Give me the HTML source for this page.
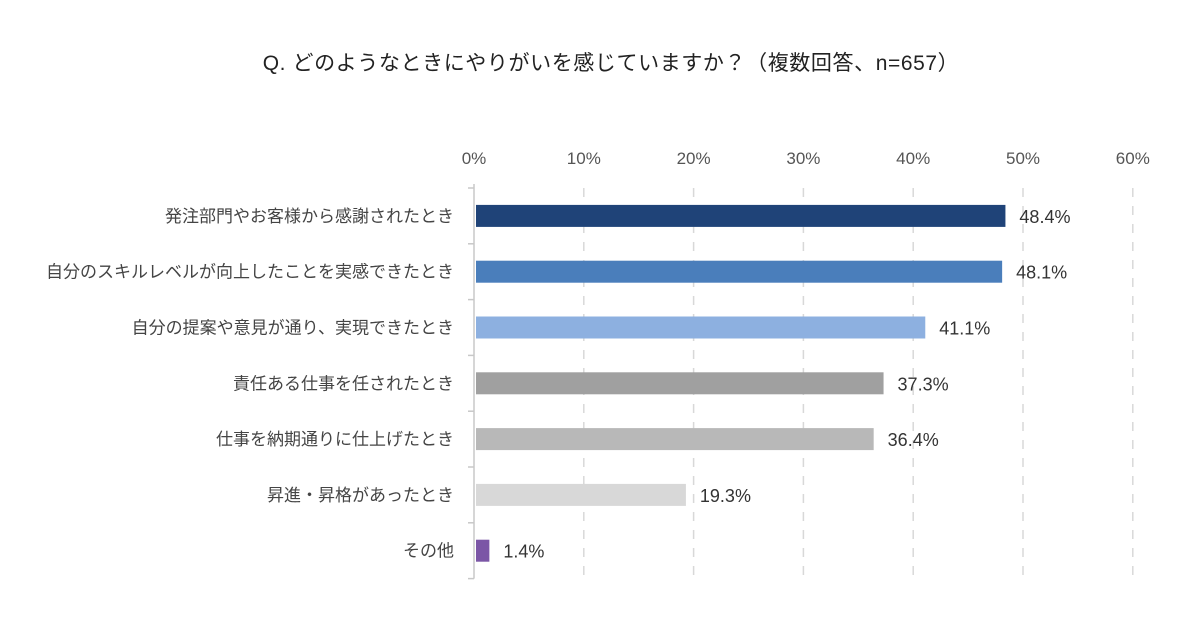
<!DOCTYPE html>
<html><head><meta charset="utf-8">
<style>
body{margin:0;width:1200px;height:630px;background:#fff;font-family:"Liberation Sans","Noto Sans CJK JP",sans-serif;overflow:hidden}
svg text{font-family:"Liberation Sans","Noto Sans CJK JP",sans-serif}
</style></head>
<body>
<svg id="chart" width="1200" height="630" xmlns="http://www.w3.org/2000/svg">
<text x="611" y="70" text-anchor="middle" font-size="21" fill="#222" letter-spacing="0.6">Q.  どのようなときにやりがいを感じていますか？（複数回答、n=657）</text>
<g id="grid"></g><g id="bars"></g><g id="labels"></g>
</svg>
<script>
const categories=["発注部門やお客様から感謝されたとき","自分のスキルレベルが向上したことを実感できたとき","自分の提案や意見が通り、実現できたとき","責任ある仕事を任されたとき","仕事を納期通りに仕上げたとき","昇進・昇格があったとき","その他"];
const values=[48.4,48.1,41.1,37.3,36.4,19.3,1.4];
const colors=["#1f4378","#4a7ebb","#8db0e0","#a0a0a0","#b8b8b8","#d8d8d8","#7b56a6"];
const ticks=[0,10,20,30,40,50,60];
const NS="http://www.w3.org/2000/svg";
const x0=474,pxPer=10.98,yTop=188,step=55.8,barH=22;
const xs=v=>x0+v*pxPer;
const yc=i=>yTop+step*(i+0.5);
function mk(t,a,p){const e=document.createElementNS(NS,t);for(const k in a)e.setAttribute(k,a[k]);p.appendChild(e);return e;}
const grid=document.getElementById('grid'),bars=document.getElementById('bars'),labels=document.getElementById('labels');
ticks.forEach(t=>{
  if(t>0){const l=mk('line',{x1:xs(t),x2:xs(t),y1:yTop,y2:yTop+step*categories.length,stroke:'#d8d8d8','stroke-width':1.5,'stroke-dasharray':'9,9'},grid);
  
  }
  const tx=mk('text',{x:xs(t),y:164,'text-anchor':'middle','font-size':17,fill:'#555'},grid);tx.textContent=t+'%';
  
  
});
const ax=mk('line',{x1:x0,x2:x0,y1:yTop-4,y2:yTop+step*categories.length,stroke:'#c8c8c8','stroke-width':1.5},grid);


for(let i=0;i<=categories.length;i++){const tk=mk('line',{x1:x0-6,x2:x0,y1:yTop+step*i,y2:yTop+step*i,stroke:'#c8c8c8','stroke-width':1.5},grid);

}
categories.forEach((c,i)=>{
  const r=mk('rect',{x:x0+2,y:yc(i)-barH/2,width:xs(values[i])-x0-2,height:barH,fill:colors[i]},bars);
  
  
  const cl=mk('text',{x:454,y:yc(i)+6,'text-anchor':'end','font-size':17,fill:'#444'},labels);cl.textContent=c;
  
  
  const vl=mk('text',{x:xs(values[i])+14,y:yc(i)+7,'font-size':18,fill:'#333'},labels);vl.textContent=values[i].toFixed(1)+'%';
  
  
});
</script>
</body></html>
